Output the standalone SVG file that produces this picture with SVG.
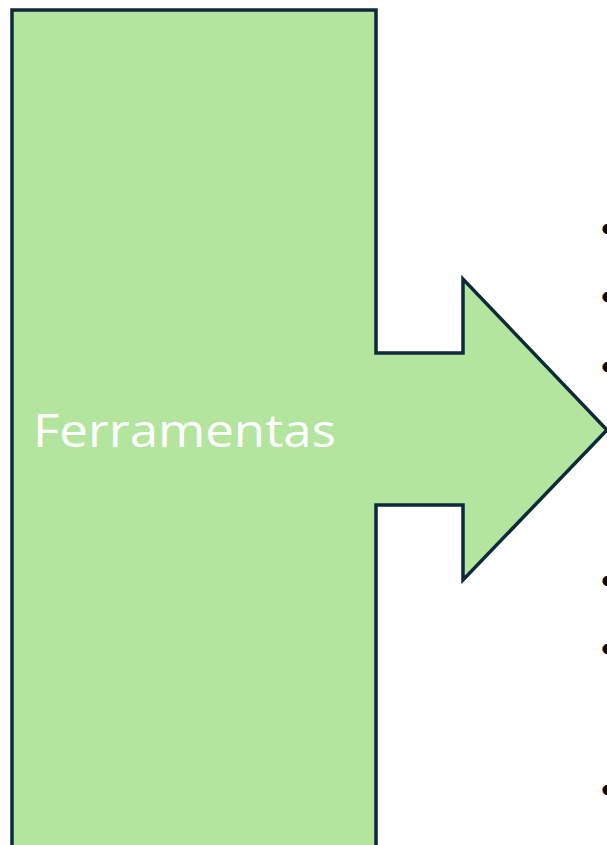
<svg xmlns="http://www.w3.org/2000/svg" width="607" height="845" viewBox="0 0 607 845">
<style>
.shape{fill:#b3e59f;stroke:#0c2a3a;stroke-width:3.5;stroke-linejoin:miter}
.lbl{font-family:"Open Sans","Liberation Sans",sans-serif;font-size:45px;fill:#ffffff}
.bul{font-family:"Liberation Sans",sans-serif;font-size:36px;fill:#000000}
</style>
<rect width="607" height="845" fill="#ffffff"/>
<g id="ferramentas">
<path class="shape" d="M12,860 L12,10 L376,10 L376,353 L463,353 L463,279 L607,430 L463,580 L463,505 L376,505 L376,860"/>
<text class="lbl" x="33" y="447" textLength="303" lengthAdjust="spacingAndGlyphs">Ferramentas</text>
</g>
<g id="list">
<text class="bul" x="601" y="241">•</text>
<text class="bul" x="601" y="309">•</text>
<text class="bul" x="601" y="379">•</text>
<text class="bul" x="601" y="593">•</text>
<text class="bul" x="601" y="661">•</text>
<text class="bul" x="601" y="802">•</text>
</g>
<g id="connectors"></g>
</svg>
